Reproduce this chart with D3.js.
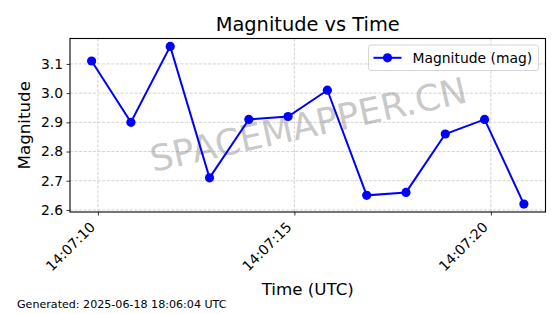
<!DOCTYPE html>
<html>
<head>
<meta charset="utf-8">
<script src="https://cdn.jsdelivr.net/npm/d3@7"></script>
<style>
  body { margin: 0; background: #fff; }
  text { font-family: "DejaVu Sans", sans-serif; }
</style>
</head>
<body>
<div id="chart"></div>
<script>
// data
const times = [
  "2025-06-18T14:07:09.84Z", "2025-06-18T14:07:10.84Z", "2025-06-18T14:07:11.84Z",
  "2025-06-18T14:07:12.84Z", "2025-06-18T14:07:13.84Z", "2025-06-18T14:07:14.84Z",
  "2025-06-18T14:07:15.84Z", "2025-06-18T14:07:16.84Z", "2025-06-18T14:07:17.84Z",
  "2025-06-18T14:07:18.84Z", "2025-06-18T14:07:19.84Z", "2025-06-18T14:07:20.84Z"
];
const magnitudes = [3.11, 2.90, 3.16, 2.71, 2.91, 2.92, 3.01, 2.65, 2.66, 2.86, 2.91, 2.62];
const yTicks = [2.6, 2.7, 2.8, 2.9, 3.0, 3.1];
const seriesName = "Magnitude (mag)";
const titleText = "Magnitude vs Time";
const footerText = "Generated: 2025-06-18 18:06:04 UTC";
const watermark = "SPACEMAPPER.CN";

const width = 560, height = 314;
const margin = {left: 70, right: 14.5, top: 38.5, bottom: 102};
const iw = width - margin.left - margin.right;
const ih = height - margin.top - margin.bottom;

const data = times.map((t, i) => ({t: new Date(t), v: magnitudes[i]}));

// matplotlib style 5% padding
const tExt = d3.extent(data, d => +d.t);
const tPad = (tExt[1] - tExt[0]) * 0.05;
const vExt = d3.extent(magnitudes);
const vPad = (vExt[1] - vExt[0]) * 0.05;

const x = d3.scaleUtc()
    .domain([new Date(tExt[0] - tPad), new Date(tExt[1] + tPad)])
    .range([0, iw]);
const y = d3.scaleLinear()
    .domain([vExt[0] - vPad, vExt[1] + vPad])
    .range([ih, 0]);

const svg = d3.select('#chart').append('svg')
    .attr('width', width)
    .attr('height', height);

const g = svg.append('g')
    .attr('transform', `translate(${margin.left},${margin.top})`);

const xTicks = x.ticks(d3.utcSecond.every(5));

// grid
const grid = g.append('g').attr('class', 'grid')
    .attr('stroke', '#b0b0b0')
    .attr('stroke-width', 0.8)
    .attr('stroke-dasharray', '3,1.6')
    .attr('opacity', 0.7);
grid.selectAll('line.gx').data(xTicks).enter().append('line')
    .attr('x1', d => x(d)).attr('x2', d => x(d))
    .attr('y1', 0).attr('y2', ih);
grid.selectAll('line.gy').data(yTicks).enter().append('line')
    .attr('x1', 0).attr('x2', iw)
    .attr('y1', d => y(d)).attr('y2', d => y(d));

// watermark
g.append('text')
    .attr('transform', `translate(${iw / 2 + 0.5},${ih / 2 - 1}) rotate(-12.5)`)
    .attr('text-anchor', 'middle')
    .attr('dy', '0.36em')
    .style('font-size', '36px')
    .style('fill', '#808080')
    .style('opacity', 0.42)
    .text(watermark);

// axes
const yAxis = g.append('g')
    .call(d3.axisLeft(y).tickValues(yTicks).tickSize(3.5).tickPadding(3.5).tickFormat(d3.format('.1f')));
const xAxis = g.append('g')
    .attr('transform', `translate(0,${ih})`)
    .call(d3.axisBottom(x).tickValues(xTicks).tickSize(3.5).tickFormat(d3.utcFormat('%H:%M:%S')));

[xAxis, yAxis].forEach(a => {
  a.select('.domain').remove();
  a.selectAll('line').attr('stroke', '#000').attr('stroke-width', 0.8);
  a.selectAll('text').style('font-size', '13.9px').attr('fill', '#000')
    .style('font-family', '"DejaVu Sans", sans-serif');
});
xAxis.selectAll('text')
    .attr('text-anchor', 'end')
    .attr('dy', null)
    .attr('y', 0)
    .attr('transform', 'translate(-2.5,16) rotate(-45)');

// frame
g.append('rect')
    .attr('width', iw).attr('height', ih)
    .attr('fill', 'none').attr('stroke', '#000').attr('stroke-width', 1.1);

// series
const line = d3.line().x(d => x(d.t)).y(d => y(d.v));
g.append('path')
    .datum(data)
    .attr('d', line)
    .attr('fill', 'none')
    .attr('stroke', '#0000ff')
    .attr('stroke-width', 2);
g.selectAll('circle.pt').data(data).enter().append('circle')
    .attr('cx', d => x(d.t)).attr('cy', d => y(d.v))
    .attr('r', 4.6)
    .attr('fill', '#0000ff');

// legend
const lg = g.append('g').attr('transform', `translate(${iw - 177},${6.5})`);
lg.append('rect')
    .attr('width', 170).attr('height', 25.5).attr('rx', 2.5)
    .attr('fill', '#fff').attr('fill-opacity', 0.8)
    .attr('stroke', '#cccccc').attr('stroke-width', 0.8);
lg.append('line')
    .attr('x1', 5).attr('x2', 33).attr('y1', 12.8).attr('y2', 12.8)
    .attr('stroke', '#0000ff').attr('stroke-width', 2);
lg.append('circle').attr('cx', 19).attr('cy', 12.8).attr('r', 4.6).attr('fill', '#0000ff');
lg.append('text')
    .attr('x', 44).attr('y', 17.8)
    .style('font-size', '13.9px')
    .text(seriesName);

// titles
svg.append('text')
    .attr('x', margin.left + iw / 2).attr('y', 31)
    .attr('text-anchor', 'middle')
    .style('font-size', '19.4px')
    .text(titleText);
svg.append('text')
    .attr('transform', `translate(30,${margin.top + ih / 2}) rotate(-90)`)
    .attr('text-anchor', 'middle')
    .style('font-size', '16.7px')
    .text('Magnitude');
svg.append('text')
    .attr('x', margin.left + iw / 2).attr('y', 295)
    .attr('text-anchor', 'middle')
    .style('font-size', '16.7px')
    .text('Time (UTC)');
svg.append('text')
    .attr('x', 17).attr('y', 308)
    .style('font-size', '11.1px')
    .text(footerText);
</script>
</body>
</html>
